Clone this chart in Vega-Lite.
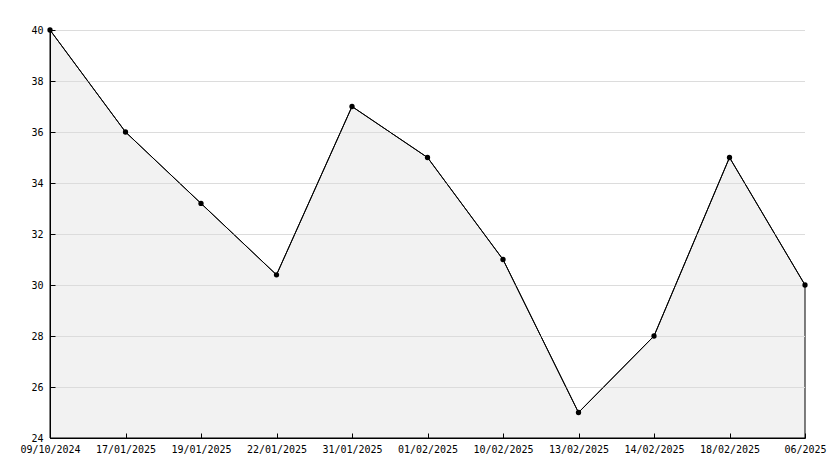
{
  "$schema": "https://vega.github.io/schema/vega-lite/v6.json",
  "autosize": "none",
  "width": 755,
  "height": 408,
  "padding": {"left": 50, "top": 30, "right": 29, "bottom": 30},
  "background": "white",
  "config": {
    "view": {"stroke": null},
    "font": "DejaVu Sans Mono",
    "axis": {"labelFont": "DejaVu Sans Mono", "labelFontSize": 10, "labelColor": "black", "domainColor": "black", "tickColor": "black", "domainWidth": 1, "tickWidth": 1}
  },
  "datasets": {
    "series": [
      {"date": "09/10/2024", "value": 40},
      {"date": "17/01/2025", "value": 36},
      {"date": "19/01/2025", "value": 33.2},
      {"date": "22/01/2025", "value": 30.4},
      {"date": "31/01/2025", "value": 37},
      {"date": "01/02/2025", "value": 35},
      {"date": "10/02/2025", "value": 31},
      {"date": "13/02/2025", "value": 25},
      {"date": "14/02/2025", "value": 28},
      {"date": "18/02/2025", "value": 35},
      {"date": "06/2025", "value": 30}
    ],
    "grid": [
      {"value": 26}, {"value": 28}, {"value": 30}, {"value": 32},
      {"value": 34}, {"value": 36}, {"value": 38}, {"value": 40}
    ]
  },
  "layer": [
    {
      "data": {"name": "series"},
      "mark": {"type": "area", "color": "#f2f2f2", "stroke": "black", "strokeWidth": 1},
      "encoding": {
        "x": {
          "field": "date", "type": "ordinal", "sort": null,
          "scale": {"type": "point", "padding": 0},
          "axis": {"title": null, "zindex": 1, "labelAngle": 0, "tickSize": -5, "labelPadding": 11, "grid": false, "labelBaseline": "top", "labelOverlap": false, "labelFlush": false, "domain": true}
        },
        "y": {
          "field": "value", "type": "quantitative",
          "scale": {"domain": [24, 40], "nice": false, "zero": false},
          "axis": {
            "title": null,
            "zindex": 1,
            "values": [24,25,26,27,28,29,30,31,32,33,34,35,36,37,38,39,40],
            "tickSize": {"condition": {"test": "datum.value % 2 != 0", "value": -3}, "value": -5},
            "labelExpr": "datum.value % 2 != 0 ? '' : datum.label",
            "labelPadding": 12,
            "labelOverlap": false,
            "labelFlush": false,
            "grid": false,
            "labelBaseline": "middle"
          }
        },
        "y2": {"datum": 24}
      }
    },
    {
      "data": {"name": "grid"},
      "mark": {"type": "rule", "color": "#dcdcdc", "strokeWidth": 1, "yOffset": 0.5},
      "encoding": {"y": {"field": "value", "type": "quantitative"}}
    },
    {
      "data": {"name": "series"},
      "mark": {"type": "line", "color": "black", "strokeWidth": 1},
      "encoding": {
        "x": {"field": "date", "type": "ordinal", "sort": null},
        "y": {"field": "value", "type": "quantitative"}
      }
    },
    {
      "data": {"name": "series"},
      "mark": {"type": "point", "shape": "circle", "filled": true, "color": "black", "size": 28, "opacity": 1},
      "encoding": {
        "x": {"field": "date", "type": "ordinal", "sort": null},
        "y": {"field": "value", "type": "quantitative"}
      }
    }
  ]
}
